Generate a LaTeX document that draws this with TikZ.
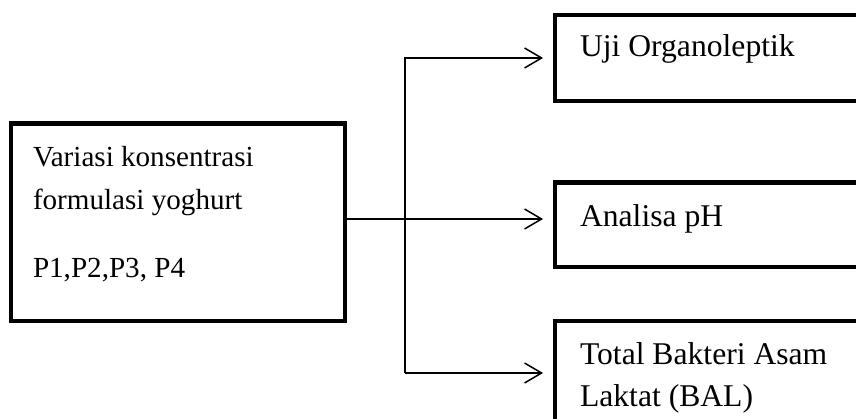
\documentclass[tikz,border=0pt]{standalone}
\usepackage{fontspec}
\setmainfont{Liberation Serif}
\usetikzlibrary{arrows.meta,positioning}
\newlength{\px}\setlength{\px}{0.025cm}
\newcommand{\boxtext}[3]{\begin{minipage}[t][#1\px][t]{#2\px}\strut #3\end{minipage}}

\begin{document}
\begin{tikzpicture}[x=0.025cm,y=-0.025cm,
    box/.style={draw,rectangle,line width=3pt,inner xsep=22\px,outer sep=0pt,anchor=north west,
        font=\fontsize{20.7pt}{43\px}\selectfont},
    result/.style={box,inner xsep=25\px,font=\fontsize{22.5pt}{42\px}\selectfont},
    arr/.style={line width=1.07pt,-{Straight Barb[length=12.1pt,width=14.2pt]},shorten >=8.5pt}]
    \clip (0,0) rectangle (856,419);

    \node[box,inner ysep=13.4\px] (start) at (11,123.5) {\boxtext{171}{290}{Variasi konsentrasi\\formulasi yoghurt\\[25\px]P1,P2,P3, P4}};
    \node[result,inner ysep=12.6\px] (organo) at (555,15) {\boxtext{60.8}{320}{Uji Organoleptik}};
    \node[result,inner ysep=15.1\px] (ph) at (555,182.5) {\boxtext{54.3}{320}{Analisa pH}};
    \node[result,inner ysep=14.6\px] (bal) at (555,321) {\boxtext{140}{320}{Total Bakteri Asam\\Laktat (BAL)}};

    \coordinate (t1) at (405,58);
    \coordinate (t2) at (405,219);
    \coordinate (t3) at (405,373);

    \draw[line width=1.07pt] (t2 -| start.east) -- (t2);
    \draw[arr] (t3) -- (t1) -- (t1 -| organo.west);
    \draw[arr] (t2) -- (t2 -| ph.west);
    \draw[arr] (t3) -- (t3 -| bal.west);
\end{tikzpicture}
\end{document}
